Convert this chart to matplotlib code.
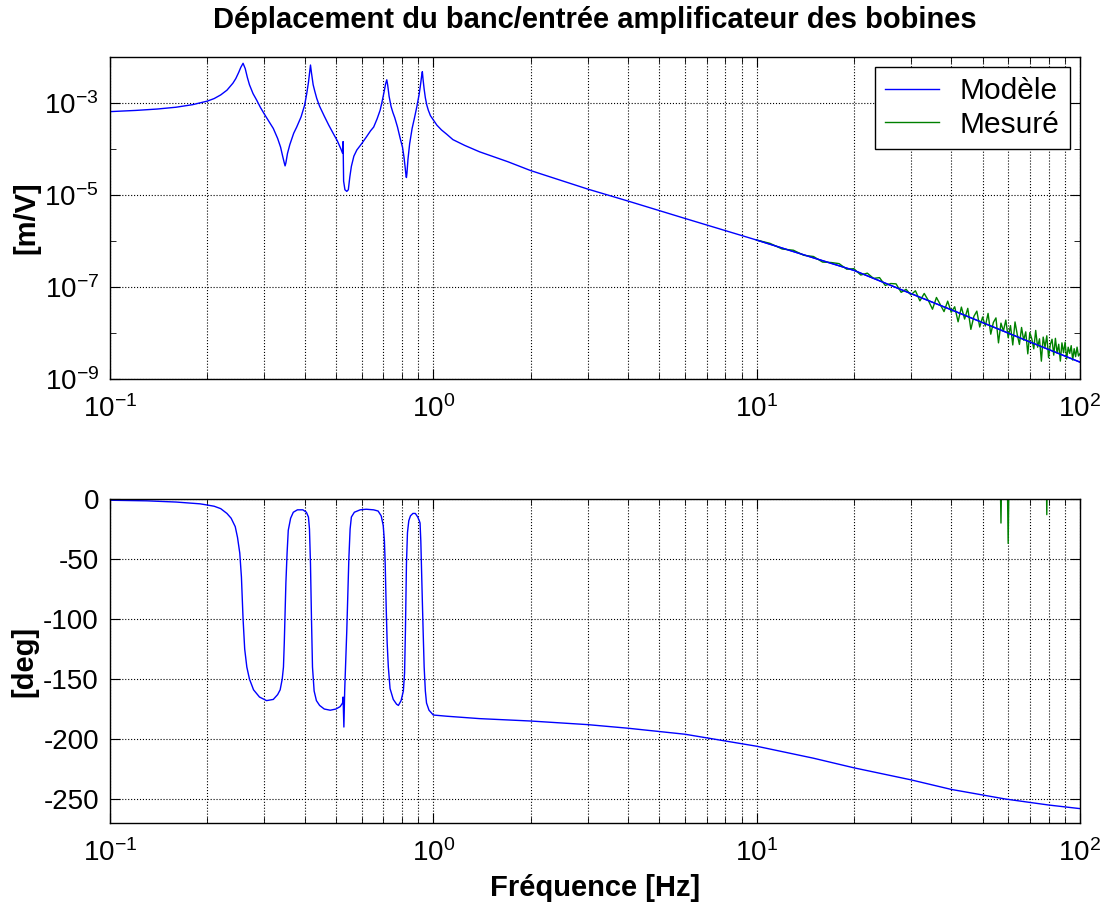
import matplotlib
matplotlib.use("Agg")
import matplotlib.pyplot as plt
from matplotlib.ticker import FixedLocator, LogLocator, NullFormatter, LogFormatterSciNotation

plt.rcParams['font.family'] = ['Liberation Sans', 'DejaVu Sans']
plt.rcParams['axes.unicode_minus'] = False

# modèle : module [m/V] en fonction de la fréquence [Hz]
freq_module = [0.10, 0.12, 0.14, 0.16, 0.18, 0.20, 0.21, 0.22, 0.23, 0.24,
               0.245, 0.25, 0.254, 0.258, 0.262, 0.266, 0.27, 0.277, 0.284, 0.292,
               0.30, 0.31, 0.32, 0.33, 0.337, 0.342, 0.346, 0.348, 0.350, 0.354,
               0.36, 0.37, 0.378, 0.39, 0.40, 0.406, 0.411, 0.415, 0.417, 0.420,
               0.425, 0.43, 0.436, 0.445, 0.46, 0.475, 0.49, 0.505, 0.518, 0.524,
               0.526, 0.528, 0.533, 0.540, 0.546, 0.552, 0.558, 0.568, 0.58, 0.60,
               0.62, 0.64, 0.654, 0.67, 0.685, 0.695, 0.705, 0.712, 0.718, 0.723,
               0.73, 0.74, 0.75, 0.76, 0.775, 0.79, 0.803, 0.812, 0.819, 0.824,
               0.826, 0.829, 0.835, 0.845, 0.86, 0.876, 0.89, 0.905, 0.915, 0.92,
               0.925, 0.93, 0.937, 0.945, 0.955, 0.965, 0.98, 1.0, 1.026, 1.06,
               1.10, 1.15, 1.25, 1.39, 1.7, 2.0, 3.0, 4.0, 6.0, 10,
               15, 20, 30, 40, 55, 70, 85, 100]
module_modele = [6.5e-4, 6.9e-4, 7.4e-4, 8.1e-4, 9.2e-4, 1.10e-3, 1.25e-3, 1.5e-3, 1.9e-3, 2.7e-3,
                 3.4e-3, 4.6e-3, 6.0e-3, 7.3e-3, 5.6e-3, 3.6e-3, 2.5e-3, 1.6e-3, 1.17e-3, 8.0e-4,
                 5.8e-4, 4.0e-4, 2.8e-4, 1.7e-4, 1.1e-4, 7.0e-5, 5.0e-5, 4.3e-5, 5.0e-5, 8.0e-5,
                 1.25e-4, 2.2e-4, 3.0e-4, 5.0e-4, 9.0e-4, 1.6e-3, 2.8e-3, 5.0e-3, 6.7e-3, 4.5e-3,
                 2.5e-3, 1.8e-3, 1.26e-3, 8.5e-4, 5.2e-4, 3.3e-4, 2.2e-4, 1.5e-4, 1.0e-4, 8.1e-5,
                 1.45e-4, 2.0e-5, 1.3e-5, 1.2e-5, 1.3e-5, 2.5e-5, 4.2e-5, 7.0e-5, 9.5e-5, 1.3e-4,
                 1.8e-4, 2.5e-4, 3.0e-4, 4.5e-4, 7.0e-4, 1.1e-3, 1.8e-3, 2.6e-3, 3.2e-3, 2.4e-3,
                 1.4e-3, 8.5e-4, 6.2e-4, 4.8e-4, 3.0e-4, 1.7e-4, 1.1e-4, 6.5e-5, 3.8e-5, 2.5e-5,
                 2.4e-5, 3.0e-5, 6.0e-5, 1.3e-4, 2.8e-4, 5.0e-4, 8.5e-4, 1.6e-3, 2.8e-3, 3.8e-3,
                 4.8e-3, 3.2e-3, 2.0e-3, 1.3e-3, 9.0e-4, 7.0e-4, 5.3e-4, 4.3e-4, 3.3e-4, 2.6e-4,
                 2.1e-4, 1.6e-4, 1.2e-4, 8.7e-5, 5.3e-5, 3.4e-5, 1.35e-5, 7.4e-6, 3.1e-6, 1.05e-6,
                 4.3e-7, 2.3e-7, 7.2e-8, 3.2e-8, 1.28e-8, 6.4e-9, 3.7e-9, 2.33e-9]

# modèle : phase [deg] en fonction de la fréquence [Hz]
freq_phase = [0.10, 0.13, 0.16, 0.19, 0.20, 0.21, 0.22, 0.23, 0.237, 0.244,
              0.248, 0.252, 0.255, 0.258, 0.261, 0.265, 0.27, 0.278, 0.29, 0.305,
              0.32, 0.33, 0.336, 0.341, 0.344, 0.346, 0.348, 0.350, 0.353, 0.356,
              0.362, 0.369, 0.38, 0.395, 0.405, 0.411, 0.414, 0.417, 0.420, 0.423,
              0.428, 0.435, 0.445, 0.46, 0.48, 0.50, 0.515, 0.524, 0.526, 0.529,
              0.532, 0.536, 0.540, 0.544, 0.548, 0.553, 0.558, 0.57, 0.594, 0.62,
              0.654, 0.675, 0.69, 0.70, 0.706, 0.71, 0.715, 0.72, 0.726, 0.735,
              0.752, 0.77, 0.78, 0.795, 0.808, 0.815, 0.82, 0.826, 0.832, 0.84,
              0.85, 0.865, 0.88, 0.895, 0.905, 0.91, 0.915, 0.92, 0.925, 0.93,
              0.937, 0.945, 0.953, 0.97, 1.0, 1.1, 1.39, 2.0, 3.0, 4.0,
              6.0, 10, 15, 20, 30, 40, 58.8, 80, 100]
phase_modele = [-1, -1.5, -2.5, -4, -5, -6, -8, -12, -16, -23,
                -32, -45, -65, -100, -125, -140, -150, -159, -165, -168,
                -167, -163, -159, -150, -140, -120, -95, -70, -45, -26,
                -16, -11, -9, -9, -11, -15, -25, -54, -100, -140,
                -160, -168, -172, -175, -176, -175, -173, -170, -165, -190,
                -160, -135, -110, -80, -50, -25, -15, -11, -9, -8.5,
                -9, -10, -14, -22, -35, -54, -90, -120, -140, -158,
                -167, -171, -172, -168, -160, -145, -110, -54, -28, -18,
                -14, -12, -12, -15, -18, -20, -35, -60, -85, -109,
                -140, -160, -170, -176, -180, -181, -183, -185, -188, -191,
                -196, -206, -216, -224, -234, -242, -250, -255, -258]

# mesure : 10 à 100 Hz
freq_mesure = [10, 11, 12, 13, 14, 15, 16, 17, 18, 19,
               20, 21, 22, 23, 24, 25, 26, 27, 28, 29,
               30, 31, 32, 33, 34, 35, 36, 37, 38, 39,
               40, 41, 42, 43, 44, 45, 46, 47, 48, 49,
               50, 51, 52, 53, 54, 55, 56, 57, 58, 59,
               60, 61, 62, 63, 64, 65, 66, 67, 68, 69,
               70, 71, 72, 73, 74, 75, 76, 77, 78, 79,
               80, 81, 82, 83, 84, 85, 86, 87, 88, 89,
               90, 91, 92, 93, 94, 95, 96, 97, 98, 99, 100]
module_mesure = [1.05e-6, 8.89e-7, 6.70e-7, 6.30e-7, 4.89e-7, 4.60e-7, 3.48e-7, 3.41e-7, 3.22e-7, 2.44e-7,
                 2.50e-7, 1.82e-7, 2.00e-7, 1.54e-7, 1.60e-7, 1.08e-7, 1.19e-7, 1.17e-7, 7.66e-8, 8.91e-8,
                 6.73e-8, 8.28e-8, 4.99e-8, 7.24e-8, 5.05e-8, 3.29e-8, 5.92e-8, 4.15e-8, 2.92e-8, 4.93e-8,
                 2.83e-8, 3.72e-8, 1.75e-8, 3.66e-8, 2.01e-8, 3.44e-8, 1.20e-8, 2.30e-8, 2.99e-8, 1.35e-8,
                 2.22e-8, 1.42e-8, 2.67e-8, 9.42e-9, 1.70e-8, 2.13e-8, 6.10e-9, 1.64e-8, 1.10e-8, 1.91e-8,
                 7.94e-9, 1.45e-8, 5.50e-9, 1.74e-8, 9.33e-9, 5.64e-9, 1.32e-8, 6.98e-9, 1.06e-8, 3.52e-9,
                 1.02e-8, 7.45e-9, 4.52e-9, 1.14e-8, 4.91e-9, 7.48e-9, 2.44e-9, 8.15e-9, 4.95e-9, 8.71e-9,
                 2.91e-9, 5.61e-9, 7.31e-9, 3.30e-9, 7.66e-9, 3.71e-9, 5.69e-9, 2.45e-9, 6.11e-9, 3.73e-9,
                 6.28e-9, 2.72e-9, 4.91e-9, 3.61e-9, 5.31e-9, 2.58e-9, 4.56e-9, 3.06e-9, 4.93e-9, 3.16e-9, 3.53e-9]
phase_mesure = [154, 152, 151, 149, 148, 147, 146, 145, 143, 142,
                141, 140, 139, 138, 137, 136, 135, 134, 133, 132,
                131, 130, 129, 128, 128, 127, 126, 125, 124, 124,
                123, 122, 121, 121, 120, 119, 119, 118, 117, 117,
                116, 115, 115, 114, 114, 113, 112, -20, 111, 111,
                -37, 110, 109, 109, 108, 108, 107, 107, 106, 106,
                105, 105, 104, 104, 104, 103, 103, 102, 102, -13,
                101, 101, 100, 100, 100, 99, 99, 98, 98, 98,
                97, 97, 97, 96, 96, 96, 95, 95, 95, 94, 94]

fig = plt.figure(figsize=(11.11, 9.08), dpi=100)
ax1 = fig.add_axes([0.099, 0.5826, 0.873, 0.3546])
ax2 = fig.add_axes([0.099, 0.0936, 0.873, 0.3568])

bleu = '#0000ff'
vert = '#008000'

ax1.loglog(freq_module, module_modele, color=bleu, lw=1.0, label='Modèle')
ax1.loglog(freq_mesure, module_mesure, color=vert, lw=1.0, label='Mesuré')
ax1.loglog(freq_module[-9:], module_modele[-9:], color=bleu, lw=1.0)
ax1.set_ylim(1e-9, 1e-2)
ax1.yaxis.set_major_locator(FixedLocator([1e-9, 1e-7, 1e-5, 1e-3]))
ax1.yaxis.set_minor_locator(FixedLocator([1e-8, 1e-6, 1e-4]))
ax1.yaxis.set_major_formatter(LogFormatterSciNotation())
ax1.yaxis.set_minor_formatter(NullFormatter())
ax1.set_ylabel('[m/V]', fontsize=21, fontweight='bold')
ax1.yaxis.set_label_coords(-0.072, 0.5)
ax1.set_title('Déplacement du banc/entrée amplificateur des bobines', fontsize=21,
              fontweight='bold', pad=21)
leg = ax1.legend(loc='upper right', fontsize=21.5, fancybox=False, framealpha=1,
                 edgecolor='black', handlelength=1.8, borderaxespad=0.33,
                 handletextpad=0.7, borderpad=0.35, labelspacing=0.18)
leg.get_frame().set_linewidth(1.0)

ax2.semilogx(freq_phase, phase_modele, color=bleu, lw=1.0)
ax2.semilogx(freq_mesure, phase_mesure, color=vert, lw=1.0)
ax2.set_ylim(-270, 0)
ax2.set_yticks([0, -50, -100, -150, -200, -250])
ax2.set_ylabel('[deg]', fontsize=21, fontweight='bold')
ax2.yaxis.set_label_coords(-0.074, 0.5)
ax2.set_xlabel('Fréquence [Hz]', fontsize=21, fontweight='bold', labelpad=5)

for ax in (ax1, ax2):
    ax.set_xlim(0.1, 100)
    ax.xaxis.set_major_locator(LogLocator(base=10, numticks=10))
    ax.xaxis.set_minor_locator(LogLocator(base=10, subs=[2, 3, 4, 5, 6, 7, 8, 9], numticks=10))
    ax.xaxis.set_minor_formatter(NullFormatter())
    ax.tick_params(which='both', direction='in', top=True, right=True, labelsize=20)
    ax.tick_params(which='major', length=7)
    ax.tick_params(axis='x', which='major', pad=12)
    ax.tick_params(axis='y', which='major', pad=8)
    ax.tick_params(which='minor', length=4)
    ax.grid(True, which='both', axis='x', linestyle=':', color='black', lw=0.8)
    ax.grid(True, which='major', axis='y', linestyle=':', color='black', lw=0.8)
    for s in ax.spines.values():
        s.set_linewidth(1.0)

fig.savefig('out.png', dpi=100)
